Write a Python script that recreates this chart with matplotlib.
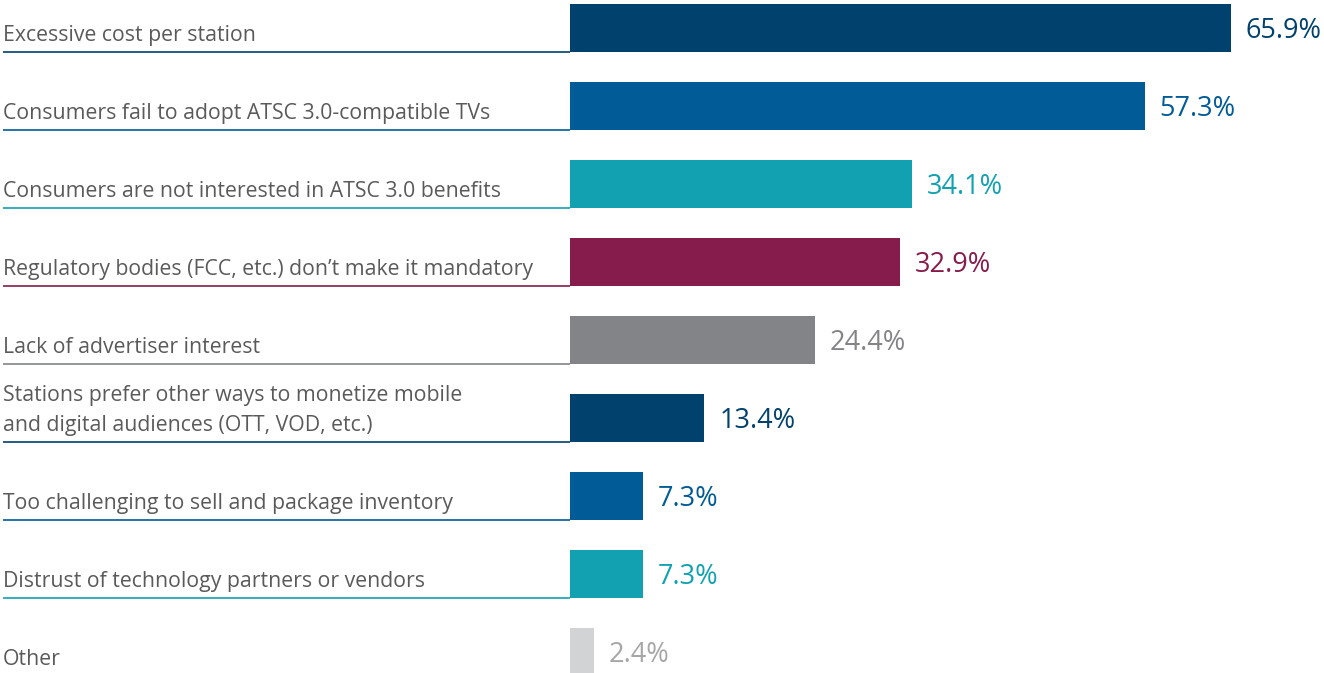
import matplotlib
matplotlib.use("Agg")
import matplotlib.pyplot as plt

plt.rcParams['font.family'] = ['Open Sans', 'DejaVu Sans']

labels = [
    'Excessive cost per station',
    'Consumers fail to adopt ATSC 3.0-compatible TVs',
    'Consumers are not interested in ATSC 3.0 benefits',
    'Regulatory bodies (FCC, etc.) don\u2019t make it mandatory',
    'Lack of advertiser interest',
    'Stations prefer other ways to monetize mobile\nand digital audiences (OTT, VOD, etc.)',
    'Too challenging to sell and package inventory',
    'Distrust of technology partners or vendors',
    'Other',
]
values = [65.9, 57.3, 34.1, 32.9, 24.4, 13.4, 7.3, 7.3, 2.4]
bar_colors = ['#00416e', '#005b97', '#11a1b1', '#861c4c', '#838487',
              '#00416e', '#005b97', '#11a1b1', '#d2d3d5']
value_colors = ['#00416e', '#005b97', '#11a1b1', '#861c4c', '#838487',
                '#00416e', '#005b97', '#11a1b1', '#a5a6a8']

fig = plt.figure(figsize=(13.24, 6.73), dpi=100)
ax = fig.add_axes([0, 0, 1, 1])

px = 10.03        # pixels per percent
x0 = 570          # pixel where bars start
step = 78.0       # pixels between rows
bar_h = 48 / step

ax.set_xlim(-x0 / px, (1324 - x0) / px)
ax.set_ylim((673 - 28) / step, -28 / step)
ax.axis('off')

rows = range(len(values))
ax.barh(list(rows), values, height=bar_h, color=bar_colors, left=0)

for i in rows:
    bottom = i + bar_h / 2
    # underline under the label
    ax.plot([-(x0 - 3) / px, 0], [bottom, bottom], color=bar_colors[i],
            lw=1.2, solid_capstyle='butt')
    lines = labels[i].split('\n')
    for k, line in enumerate(reversed(lines)):
        ax.text(-(x0 - 3) / px, bottom - (11 + 30 * k) / step, line,
                fontsize=15.3, color='#5a5a5a', va='baseline', ha='left')
    ax.annotate(f'{values[i]:.1f}%', xy=(values[i], i), xytext=(15, -3),
                textcoords='offset pixels', va='center', ha='left',
                fontsize=19.5, color=value_colors[i])

fig.savefig('out.png', dpi=100)
